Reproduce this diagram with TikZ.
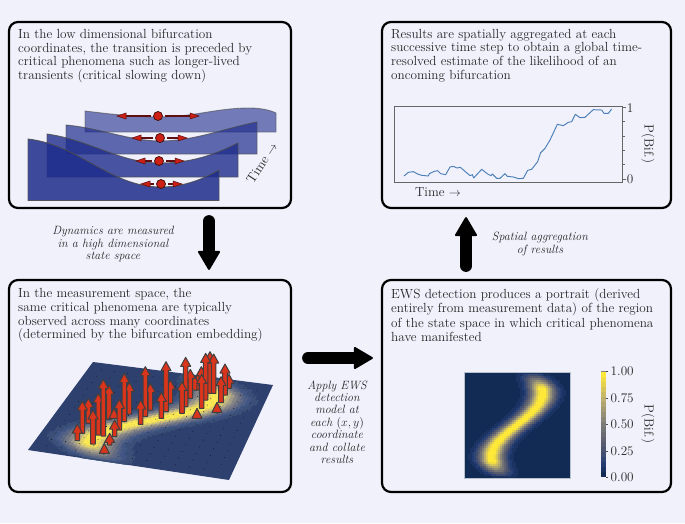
\documentclass[tikz,border=0pt]{standalone}
\usetikzlibrary{arrows.meta}
\definecolor{bg}{RGB}{241,241,252}
\definecolor{cv0}{RGB}{18,43,84}\definecolor{cv1}{RGB}{26,51,98}\definecolor{cv2}{RGB}{34,59,112}
\definecolor{cv3}{RGB}{48,69,115}\definecolor{cv4}{RGB}{62,77,112}\definecolor{cv5}{RGB}{76,84,111}
\definecolor{cv6}{RGB}{88,92,110}\definecolor{cv7}{RGB}{97,100,112}\definecolor{cv8}{RGB}{106,108,114}
\definecolor{cv9}{RGB}{115,116,117}\definecolor{cv10}{RGB}{124,123,120}\definecolor{cv11}{RGB}{137,134,118}
\definecolor{cv12}{RGB}{150,144,116}\definecolor{cv13}{RGB}{163,154,115}\definecolor{cv14}{RGB}{176,165,113}
\definecolor{cv15}{RGB}{188,175,111}\definecolor{cv16}{RGB}{201,186,100}\definecolor{cv17}{RGB}{214,197,89}
\definecolor{cv18}{RGB}{228,209,78}\definecolor{cv19}{RGB}{241,220,67}\definecolor{cv20}{RGB}{254,232,56}
\definecolor{layerc}{RGB}{30,45,140}
\definecolor{ballred}{RGB}{204,32,20}
\definecolor{arrred}{RGB}{217,52,28}
\definecolor{plotblue}{RGB}{74,127,184}
\definecolor{surfbase}{RGB}{46,64,110}
\definecolor{darkred}{RGB}{95,15,15}
\tikzset{
  panel/.style={draw=black,line width=2.2pt,rounded corners=9pt,minimum width=282pt,inner sep=0pt},
  ptext/.style={anchor=north west,inner sep=0pt,align=left,font=\fontsize{13.2}{13.6}\selectfont,text=black!85},
  itlabel/.style={align=center,inner sep=0pt,font=\fontsize{12}{12.4}\selectfont\itshape,text=black!85},
  plain/.style={inner sep=0pt,font=\fontsize{13.2}{14}\selectfont,text=black!85},
  bigarrow/.style={line width=12pt,line cap=round,-{Triangle[length=20pt,width=23pt,round,line width=2pt]}},
  layer/.style={draw=black!70,line width=.9pt,fill=layerc,opacity=#1},
  ball/.style={circle,fill=ballred,draw=black!70!ballred,line width=.7pt,minimum size=9pt,inner sep=0pt},
  shaftline/.style={draw=darkred,line width=1.6pt},
  headtri/.style={fill=ballred,draw=darkred,line width=.5pt},
  upa/.style={fill=arrred,draw=black!75,line width=1pt,line join=round}
}
\newcommand{\twoarrows}[4]{% x, y, left tip, right tip
  \draw[shaftline] (#1-7,#2)--(#3+7,#2);
  \draw[shaftline] (#1+7,#2)--(#4-7,#2);
  \path[headtri] (#3,#2)--(#3+9,#2-3)--(#3+9,#2+3)--cycle;
  \path[headtri] (#4,#2)--(#4-9,#2-3)--(#4-9,#2+3)--cycle;
}
\newcommand{\sa}[3]{%
  \path[upa] ({40+#1/3},{340+#2/3})--({40+#1/3+5},{340+#2/3+9})--({40+#1/3+2.3},{340+#2/3+9})
    --({40+#1/3+2.3},{340+#3/3})--({40+#1/3-2.3},{340+#3/3})--({40+#1/3-2.3},{340+#2/3+9})
    --({40+#1/3-5},{340+#2/3+9})--cycle;}
\newcommand{\stri}[2]{%
  \path[upa] ({40+#1/3},{340+#2/3})--({40+#1/3+5},{340+#2/3+10})--({40+#1/3-5},{340+#2/3+10})--cycle;}
\begin{document}
\begin{tikzpicture}[x=1pt,y=-1pt]
\useasboundingbox (0,0) rectangle (685,523);
\fill[bg] (0,0) rectangle (685,523);

\node[panel,minimum height=186pt] (tl) at (150,115) {};
\node[panel,minimum height=212pt] (bl) at (150,386) {};
\node[panel,minimum width=289pt,minimum height=186pt] (tr) at (526.5,115) {};
\node[panel,minimum width=289pt,minimum height=212pt] (br) at (526.5,386) {};

\node[ptext] (t1) at (18,29) {In the low dimensional bifurcation\\coordinates, the transition is preceded by\\critical phenomena such as longer-lived\\transients (critical slowing down)};
\node[ptext] (t2) at (18,288.5) {In the measurement space, the\\same critical phenomena are typically\\observed across many coordinates\\(determined by the bifurcation embedding)};
\node[ptext] (t3) at (391,29) {Results are spatially aggregated at each\\successive time step to obtain a global time-\\resolved estimate of the likelihood of an\\oncoming bifurcation};
\node[ptext,font=\fontsize{13.2}{14.3}\selectfont] (t4) at (391,288.5) {EWS detection produces a portrait (derived\\entirely from measurement data) of the region\\of the state space in which critical phenomena\\have manifested};

\draw[bigarrow,shorten <=12pt,shorten >=9pt] ([xshift=59pt]tl.south) -- ([xshift=59pt]bl.north);
\draw[bigarrow,shorten <=16pt,shorten >=8pt] ([yshift=28pt]bl.east) -- ([yshift=28pt]br.west);
\draw[bigarrow,shorten <=13pt,shorten >=8pt] (br.north -| 466,0) -- (tr.south -| 466,0);

\node[itlabel] (l1) at (113,244) {Dynamics are measured\\in a high dimensional\\state space};
\node[itlabel] (l2) at (337,422) {Apply EWS\\detection\\model at\\each $(x,y)$\\coordinate\\and collate\\results};
\node[itlabel] (l3) at (540,244) {Spatial aggregation\\of results};

\path[layer=.6] (85,111) .. controls (110,114) and (135,117) .. (158,117) .. controls (195,117) and (215,108) .. (250,108) .. controls (260,108) and (270,110) .. (276,113) -- (276,132) -- (85,132) -- cycle;
\path[layer=.7] (66,125) .. controls (100,128) and (130,141) .. (160,141) .. controls (195,141) and (225,128) .. (257,122) -- (257,154) -- (66,154) -- cycle;
\path[layer=.8] (47,134) .. controls (90,140) and (120,163) .. (160,163) .. controls (195,163) and (220,152) .. (238,143) -- (238,177) -- (47,177) -- cycle;
\path[layer=.85] (28,139) .. controls (80,145) and (110,187) .. (161,187) .. controls (185,187) and (205,178) .. (219,170) -- (219,200.5) -- (28,200.5) -- cycle;

\twoarrows{158}{116}{117}{199}
\twoarrows{160}{138}{132}{187}
\twoarrows{159}{161}{136}{184}
\twoarrows{161}{184}{141}{182}
\node[ball] (b1) at (158,116) {};
\node[ball] (b2) at (160,138) {};
\node[ball] (b3) at (159,161) {};
\node[ball] (b4) at (161,184) {};
\node[plain,rotate=57] (timea) at (262,163) {Time $\rightarrow$};

\fill[surfbase] (93,362) -- (273,385) -- (229,480) -- (28,450) -- cycle;
\fill[cv0] (464,372) rectangle (570,478);
\foreach \jj in {0,...,52}{
  \pgfmathsetmacro\vv{(\jj+.5)/53}
  \pgfmathsetmacro\va{\jj/53}
  \pgfmathsetmacro\vb{(\jj+1)/53}
  \pgfmathsetmacro\cc{.5+.24*sin(300*(\vv-.5))}
  \pgfmathsetmacro\ee{min(1,2.2*sin(180*\vv))}
  \foreach \ii in {0,...,52}{
    \pgfmathsetmacro\dd{abs((\ii+.5)/53-\cc)}
    \ifdim\dd pt<.3pt
      \pgfmathtruncatemacro\kk{round(20*min(1,1.05*exp(-(\dd*9)*(\dd*9)))*\ee)}
      \ifnum\kk>0
        \pgfmathsetmacro\ua{\ii/53}
        \pgfmathsetmacro\ub{(\ii+1)/53}
        \fill[cv\kk] ({464+2*\ii},{478-2*\jj}) rectangle ({min(570,466.2+2*\ii)},{max(372,475.8-2*\jj)});
        \path[draw=cv\kk!86!white,fill=cv\kk!86!white,line width=.25pt]
          ({(28+201*\ua)*(1-\va)+(93+180*\ua)*\va},{(450+30*\ua)*(1-\va)+(362+23*\ua)*\va}) --
          ({(28+201*\ub)*(1-\va)+(93+180*\ub)*\va},{(450+30*\ub)*(1-\va)+(362+23*\ub)*\va}) --
          ({(28+201*\ub)*(1-\vb)+(93+180*\ub)*\vb},{(450+30*\ub)*(1-\vb)+(362+23*\ub)*\vb}) --
          ({(28+201*\ua)*(1-\vb)+(93+180*\ua)*\vb},{(450+30*\ua)*(1-\vb)+(362+23*\ua)*\vb}) -- cycle;
      \fi
    \fi
  }
}
\draw[white!70!cv0,line width=.5pt] (464,372) rectangle (570,478);
\foreach \ii in {1,...,13}{\foreach \jj in {1,...,13}{
  \fill[black!75!surfbase] ({(28+201*\ii/14)*(1-\jj/14)+(93+180*\ii/14)*\jj/14},{(450+30*\ii/14)*(1-\jj/14)+(362+23*\ii/14)*\jj/14}) circle (.45);
}}
\sa{510}{35}{160}\sa{521}{42}{160}\sa{567}{103}{145}\sa{475}{100}{150}\sa{464}{108}{150}
\sa{484}{80}{150}\sa{555}{72}{165}\sa{497}{40}{180}\sa{451}{88}{175}\sa{543}{110}{188}
\sa{391}{120}{190}\sa{437}{52}{200}\sa{485}{103}{205}\sa{331}{130}{210}\sa{378}{65}{215}
\sa{426}{125}{220}\sa{268}{127}{222}\sa{316}{80}{230}\stri{531}{187}\stri{471}{205}
\sa{364}{157}{235}\sa{207}{135}{238}\stri{222}{205}\sa{253}{100}{245}\sa{145}{175}{250}
\sa{302}{180}{253}\sa{238}{178}{270}\sa{127}{183}{280}\sa{175}{160}{285}\sa{190}{118}{288}
\sa{224}{240}{290}\sa{112}{252}{302}\sa{159}{210}{312}\sa{209}{280}{315}\stri{193}{310}

\begin{scope}[shift={(375,10)},x=.33333pt,y=-.33333pt]
\draw[black!60,line width=1pt] (57,288) rectangle (743,517);
\foreach \yy in {292,335,378,421,464}{\draw[black!60,line width=.7pt] (743,\yy)--(750,\yy);}
\draw[black!60,line width=.8pt] (743,292)--(752,292);
\draw[black!60,line width=.8pt] (743,507)--(752,507);
\draw[plotblue,line width=.95pt,line join=round] plot coordinates {(87,498)(100,487)(115,485)(128,492)(140,496)(160,498)(163,491)(178,484)(188,482)(197,491)(212,494)(225,471)(235,469)(246,474)(256,472)(270,484)(285,497)(292,494)(296,504)(320,478)(338,492)(348,497)(352,492)(365,505)(375,505)(390,491)(397,499)(415,501)(430,506)(445,505)(458,481)(470,478)(488,455)(497,428)(510,415)(525,390)(547,343)(565,347)(580,337)(590,335)(601,313)(615,323)(630,322)(645,308)(655,299)(680,300)(687,310)(700,310)(710,297)};
\end{scope}
\node[plain] (one) at (630,108) {1};
\node[plain] (zero) at (630,179) {0};
\node[plain,rotate=-90] (pbif1) at (648,144) {P(Bif.)};
\node[plain] (timeb) at (438,192) {Time $\rightarrow$};

\foreach \kk in {0,...,20}{
  \fill[cv\kk] (600.5,{477-5*\kk-.3}) rectangle (606,{477-5*(\kk+1)+.0});
}
\fill[black!50] (600.5,372) rectangle (606,371);
\foreach \yy in {371.5,397.8,424,450.8,477}{\draw[black!70,line width=.6pt] (606,\yy)--(608,\yy);}
\node[plain,anchor=west] (c100) at (610.5,371.5) {1.00};
\node[plain,anchor=west] (c075) at (610.5,397.8) {0.75};
\node[plain,anchor=west] (c050) at (610.5,424) {0.50};
\node[plain,anchor=west] (c025) at (610.5,450.8) {0.25};
\node[plain,anchor=west] (c000) at (610.5,477) {0.00};
\node[plain,rotate=-90] (pbif2) at (648,424) {P(Bif.)};
\end{tikzpicture}
\end{document}
